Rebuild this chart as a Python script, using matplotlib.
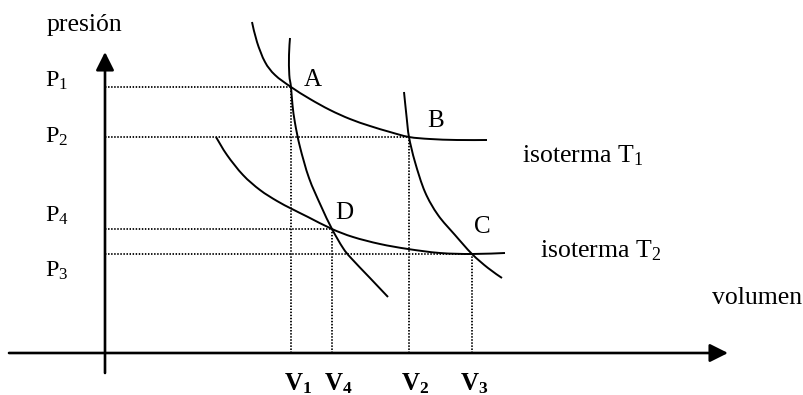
import matplotlib
matplotlib.use("Agg")
import matplotlib.pyplot as plt
from matplotlib.path import Path
from matplotlib.patches import PathPatch

plt.rcParams["font.family"] = ["Liberation Serif", "DejaVu Serif"]
plt.rcParams["mathtext.fontset"] = "custom"
plt.rcParams["mathtext.rm"] = "Liberation Serif"
plt.rcParams["mathtext.it"] = "Liberation Serif:italic"
plt.rcParams["mathtext.bf"] = "Liberation Serif:bold"

# state points of the cycle (volume, pressure) in diagram units
point_names = ["A", "B", "C", "D"]
vol = [186, 304, 367, 227]
pres = [266, 216, 99, 124]

# curves
iso_t1_v = [147, 152, 160, 170, 186, 205, 225, 245, 265, 285, 304, 325, 352, 382]
iso_t1_p = [331, 311, 291, 278, 266, 254, 243, 234, 227, 221, 216, 214, 213, 213]

iso_t2_v = [111, 122, 138, 155, 172, 187, 203, 227, 248, 275, 303, 335, 367, 400]
iso_t2_p = [216, 198, 178, 163, 152, 144, 136, 124, 116, 109, 104, 100, 99, 100]

adi_ad_v = [185, 184, 184.3, 186, 187.5, 190, 195, 204, 216, 227, 238, 246, 265, 283]
adi_ad_p = [315, 298, 278, 266, 248, 230, 206, 175, 147, 124, 105, 95, 75, 56]

adi_bc_v = [299, 301.7, 304, 310, 320, 333, 350, 367, 383, 397]
adi_bc_p = [261, 235, 216, 191, 161, 138, 118, 99, 85, 75]

p_labels = ["P$_1$", "P$_2$", "P$_3$", "P$_4$"]
v_labels = [r"$\mathbf{V}_\mathbf{1}$", r"$\mathbf{V}_\mathbf{2}$",
            r"$\mathbf{V}_\mathbf{3}$", r"$\mathbf{V}_\mathbf{4}$"]


def smooth_curve(ax, xs, ys, **kw):
    """Draw a smooth Catmull-Rom style Bezier path through the read points."""
    pts = list(zip(xs, ys))
    n = len(pts)
    verts = [pts[0]]
    codes = [Path.MOVETO]
    for i in range(n - 1):
        p0 = pts[i - 1] if i > 0 else pts[i]
        p1 = pts[i]
        p2 = pts[i + 1]
        p3 = pts[i + 2] if i + 2 < n else pts[i + 1]
        c1 = (p1[0] + (p2[0] - p0[0]) / 6, p1[1] + (p2[1] - p0[1]) / 6)
        c2 = (p2[0] - (p3[0] - p1[0]) / 6, p2[1] - (p3[1] - p1[1]) / 6)
        verts += [c1, c2, p2]
        codes += [Path.CURVE4] * 3
    ax.add_patch(PathPatch(Path(verts, codes), fill=False, **kw))


fig = plt.figure(figsize=(8.04, 3.95), dpi=100)
ax = fig.add_axes([0, 0, 1, 1])
ax.set_xlim(-105, 699)
ax.set_ylim(-42, 353)
ax.axis("off")

# axes with arrows
arrow = dict(arrowstyle="-|>,head_length=1.1,head_width=0.55", mutation_scale=10,
             lw=1.9, color="black", shrinkA=0, shrinkB=0)
ax.annotate("", xy=(0, 301), xytext=(0, -20), arrowprops=arrow)
ax.annotate("", xy=(623, 0), xytext=(-96, 0), arrowprops=arrow)

# dotted guides
dot = dict(color="black", lw=1.3, ls=(0, (0.8, 0.9)))
for v, p in zip(vol, pres):
    ax.plot([0, v], [p, p], **dot)
    ax.plot([v, v], [0, p], **dot)

# isotherms and adiabats
for xs, ys in [(iso_t1_v, iso_t1_p), (iso_t2_v, iso_t2_p),
               (adi_ad_v, adi_ad_p), (adi_bc_v, adi_bc_p)]:
    smooth_curve(ax, xs, ys, edgecolor="black", lw=1.4, capstyle="butt")

# point letters
name_off = [(13, 1), (18, 10), (2, 21), (3, 10)]
for n, v, p, (dx, dy) in zip(point_names, vol, pres, name_off):
    ax.text(v + dx, p + dy, n, fontsize=18, ha="left", va="baseline")

# pressure labels
p_label_y = [266, 210, 76, 131]
for lab, y in zip(p_labels, p_label_y):
    ax.text(-60, y, lab, fontsize=17.5, ha="left", va="baseline")

# volume labels
v_label_dx = [-7, -8, -12, -8]
for lab, v, dx in zip(v_labels, vol, v_label_dx):
    ax.text(v + dx, -37, lab, fontsize=18, ha="left", va="baseline")

ax.text(-58, 322, "presión", fontsize=18.5, ha="left", va="baseline")
ax.text(607, 49, "volumen", fontsize=18.5, ha="left", va="baseline")
ax.text(417, 191, "isoterma T$_1$", fontsize=18.5, ha="left", va="baseline")
ax.text(435, 96, "isoterma T$_2$", fontsize=18.5, ha="left", va="baseline")

fig.savefig("out.png", dpi=100)
